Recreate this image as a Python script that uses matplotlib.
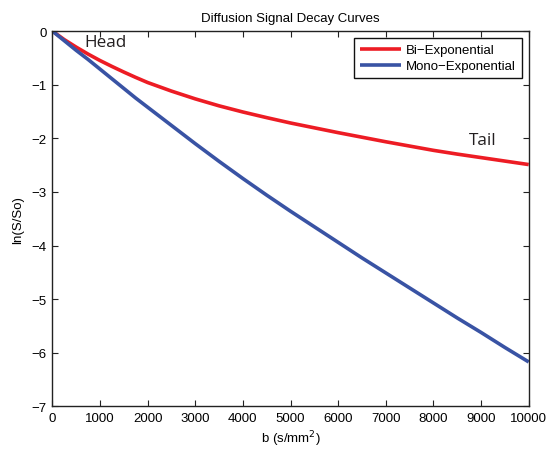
import matplotlib
matplotlib.use("Agg")
import matplotlib.pyplot as plt

# b-values (s/mm^2)
b_values = [0, 250, 500, 750, 1000, 1250, 1500, 1750, 2000, 2500, 3000, 3500, 4000, 4500,
            5000, 5500, 6000, 6500, 7000, 7500, 8000, 8500, 9000, 9500, 10000]
# ln(S/So)
bi_exp = [0.0, -0.16, -0.30, -0.43, -0.55, -0.66, -0.765, -0.865, -0.96, -1.12, -1.265, -1.395,
          -1.51, -1.615, -1.715, -1.805, -1.895, -1.98, -2.065, -2.145, -2.225, -2.295, -2.36, -2.425, -2.49]
mono_exp = [0.0, -0.18, -0.36, -0.53, -0.71, -0.89, -1.07, -1.25, -1.42, -1.76, -2.10, -2.43,
            -2.75, -3.06, -3.36, -3.65, -3.94, -4.23, -4.51, -4.79, -5.07, -5.35, -5.62, -5.90, -6.17]

x_ticks = [0, 1000, 2000, 3000, 4000, 5000, 6000, 7000, 8000, 9000, 10000]
y_ticks = [0, -1, -2, -3, -4, -5, -6, -7]

plt.rcParams['font.family'] = ['Liberation Sans', 'DejaVu Sans']
FS = 9.5

fig = plt.figure(figsize=(5.5, 4.52), dpi=100)
ax = fig.add_axes([0.0951, 0.0985, 0.8662, 0.8307])

ax.plot(b_values, bi_exp, color='#ed1c24', lw=2.6, label='Bi\u2212Exponential', solid_capstyle='butt')
ax.plot(b_values, mono_exp, color='#3953a4', lw=2.6, label='Mono\u2212Exponential', solid_capstyle='butt')

ax.set_xlim(0, 10000)
ax.set_ylim(-7, 0)
ax.set_xticks(x_ticks)
ax.set_yticks(y_ticks)
ax.set_xticklabels([str(t) for t in x_ticks], fontsize=FS)
ax.set_yticklabels([str(t).replace('-', '\u2212') for t in y_ticks], fontsize=FS)
ax.tick_params(direction='in', top=True, right=True, length=4, width=0.8, color='#222222', pad=4)
for s in ax.spines.values():
    s.set_linewidth(1.0)
    s.set_color('#222222')

ax.set_title('Diffusion Signal Decay Curves', fontsize=FS, pad=7)
ax.set_xlabel('b (s/mm$^2$)', fontsize=FS, labelpad=3)
ax.set_ylabel('ln(S/So)', fontsize=FS, labelpad=5)

ax.text(680, -0.2, 'Head', fontsize=12.3, family='Open Sans', color='#231f20', va='center', ha='left')
ax.text(8750, -2.03, 'Tail', fontsize=12.3, family='Open Sans', color='#231f20', va='center', ha='left')

leg = ax.legend(loc='upper right', bbox_to_anchor=(0.9853, 0.9814), fontsize=FS,
                frameon=True, fancybox=False, edgecolor='#111111', framealpha=1,
                handlelength=3.1, handletextpad=0.35, borderpad=0.45, labelspacing=0.3,
                borderaxespad=0)
leg.get_frame().set_linewidth(1.0)

fig.savefig('out.png', dpi=100)
